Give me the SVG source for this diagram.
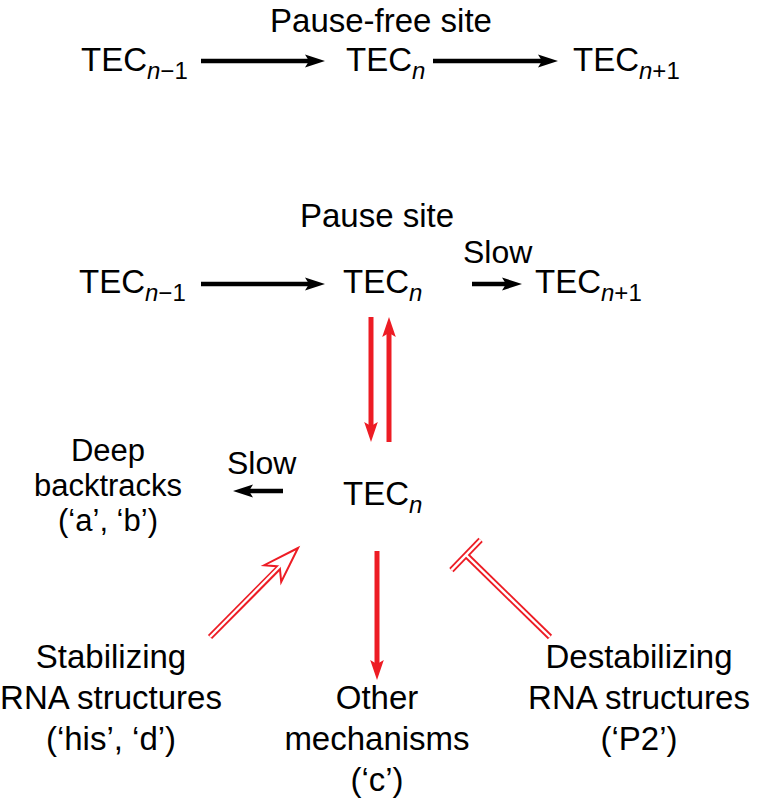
<svg xmlns="http://www.w3.org/2000/svg" width="758" height="802" viewBox="0 0 758 802">
<style>
text{font-family:"Liberation Sans",Arial,Helvetica,sans-serif;font-size:33px;fill:#000}
.sub{font-size:24px}
.it{font-style:italic}
.lbl{text-anchor:middle}
.blk{stroke:#000;stroke-width:4.5;fill:none}
.red{stroke:#ed1c24;stroke-width:5;fill:none}
.dbl{stroke:#ed1c24;stroke-width:6;fill:none}
.dblw{stroke:#fff;stroke-width:2.4;fill:none}
</style>
<defs>
<marker id="ab" markerUnits="userSpaceOnUse" viewBox="-10 -8 24 16" markerWidth="24" markerHeight="16" refX="0" refY="0" orient="auto">
<path d="M12,0 L-8,-6.5 L-4,0 L-8,6.5 Z" fill="#000"/>
</marker>
<marker id="ar" markerUnits="userSpaceOnUse" viewBox="-10 -8 24 16" markerWidth="24" markerHeight="16" refX="0" refY="0" orient="auto">
<path d="M12,0 L-8,-6.8 L-4,0 L-8,6.8 Z" fill="#ed1c24"/>
</marker>
</defs>
<rect width="758" height="802" fill="#fff"/>

<g id="title1"><text class="lbl" x="381" y="32">Pause-free site</text></g>
<g id="r1-tec-n-1"><text x="81" y="71">TEC<tspan class="sub it" dy="8">n</tspan><tspan class="sub">−1</tspan></text></g>
<g id="r1-tec-n"><text x="346" y="71">TEC<tspan class="sub it" dy="8">n</tspan></text></g>
<g id="r1-tec-n+1"><text x="573" y="71">TEC<tspan class="sub it" dy="8">n</tspan><tspan class="sub">+1</tspan></text></g>

<g id="title2"><text class="lbl" x="377" y="227">Pause site</text></g>
<g id="r2-tec-n-1"><text x="79" y="293">TEC<tspan class="sub it" dy="8">n</tspan><tspan class="sub">−1</tspan></text></g>
<g id="r2-tec-n"><text x="343" y="293">TEC<tspan class="sub it" dy="8">n</tspan></text></g>
<g id="r2-slow"><text x="463" y="263" style="font-size:32px">Slow</text></g>
<g id="r2-tec-n+1"><text x="535" y="293">TEC<tspan class="sub it" dy="8">n</tspan><tspan class="sub">+1</tspan></text></g>

<g id="r3-tec-n"><text x="343" y="505">TEC<tspan class="sub it" dy="8">n</tspan></text></g>
<g id="deep"><text class="lbl" style="font-size:31px"><tspan x="108" y="461">Deep</tspan><tspan x="108" y="496">backtracks</tspan><tspan x="108" y="531">(‘a’, ‘b’)</tspan></text></g>
<g id="r3-slow"><text x="227" y="474" style="font-size:32px">Slow</text></g>

<g id="stab"><text class="lbl"><tspan x="111" y="668">Stabilizing</tspan><tspan x="111" y="709">RNA structures</tspan><tspan x="111" y="750">(‘his’, ‘d’)</tspan></text></g>
<g id="other"><text class="lbl"><tspan x="377" y="709">Other</tspan><tspan x="377" y="750">mechanisms</tspan><tspan x="377" y="791">(‘c’)</tspan></text></g>
<g id="destab"><text class="lbl"><tspan x="639" y="668">Destabilizing</tspan><tspan x="639" y="709">RNA structures</tspan><tspan x="639" y="750">(‘P2’)</tspan></text></g>

<g id="connectors">
<line class="blk" x1="201" y1="61" x2="313" y2="61" marker-end="url(#ab)"/>
<line class="blk" x1="433" y1="61" x2="546" y2="61" marker-end="url(#ab)"/>
<line class="blk" x1="201" y1="284" x2="313" y2="284" marker-end="url(#ab)"/>
<line class="blk" x1="472" y1="284" x2="510" y2="284" marker-end="url(#ab)"/>
<line class="blk" x1="283" y1="491" x2="245" y2="491" marker-end="url(#ab)"/>
<line class="red" x1="371" y1="317" x2="371" y2="430" marker-end="url(#ar)"/>
<line class="red" x1="389" y1="442" x2="389" y2="329" marker-end="url(#ar)"/>
<line class="red" x1="377" y1="551" x2="377" y2="668" marker-end="url(#ar)"/>
<g id="stab-arrow">
<line class="dbl" x1="210" y1="637" x2="280" y2="566.5"/>
<polygon points="298,548 264.2,565.2 279.7,566.5 281.2,582" fill="#fff" stroke="#ed1c24" stroke-width="2" stroke-linejoin="miter"/>
<line class="dblw" x1="210" y1="637" x2="283" y2="563"/>
</g>
<g id="destab-bar">
<line class="dbl" x1="550" y1="637" x2="466" y2="555"/>
<line class="dbl" x1="480.6" y1="539.9" x2="451.4" y2="570.1"/>
<line class="dblw" x1="480.6" y1="539.9" x2="451.4" y2="570.1"/>
<line class="dblw" x1="550" y1="637" x2="466" y2="555"/>
</g>
</g>
</svg>
